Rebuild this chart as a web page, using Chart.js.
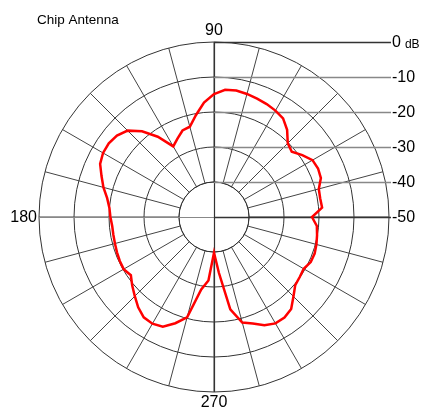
<!DOCTYPE html>
<html>
<head>
<meta charset="utf-8">
<script src="https://cdn.jsdelivr.net/npm/chart.js@4.4.1/dist/chart.umd.min.js"></script>
<style>
  body { margin: 0; background: #fff; }
</style>
</head>
<body>
<canvas id="myChart" width="422" height="410"></canvas>
<script>
// measured gain (dB), every 5 degrees, counter-clockwise from 0 (right)
var angles = [];
for (var a = 0; a < 360; a += 5) angles.push(a);
var gain = [
    -22.0, -19.0, -19.2, -19.0, -17.5, -17.2, -17.5, -19.2, -21.0, -20.2,
    -17.5, -15.6, -14.9, -14.4, -14.0, -13.6, -13.3, -13.5, -14.9, -17.2,
    -20.4, -23.3, -23.7, -25.3, -26.7, -22.0, -18.0, -15.1, -13.8, -13.3,
    -13.4, -14.1, -15.8, -17.3, -19.0, -20.0, -20.4, -20.8, -20.8, -20.7,
    -20.5, -20.3, -20.2, -21.0, -19.5, -18.0, -16.3, -15.0, -14.8, -15.4,
    -17.7, -20.3, -29.0, -31.8, -39.8, -34.0, -23.2, -18.8, -17.6, -15.9,
    -14.9, -14.9, -15.7, -17.9, -19.7, -20.1, -20.4, -19.5, -19.4, -19.7,
    -20.1, -20.5
];
var ringTicks = [0, -10, -20, -30, -40, -50];
var axisLabels = ['90', '180', '270'];
var title = 'Chip Antenna';

// radar goes clockwise from the top, so start at 90 and step backwards
var order = [];
for (var i = 0; i < angles.length; i++) {
    order.push((90 - i * 5 + 360) % 360);
}
var radarLabels = order.map(function (d) { return String(d); });
var radarData = order.map(function (d) { return gain[angles.indexOf(d)]; });

var font = '"Liberation Sans", Arial, sans-serif';

var polarDecor = {
    id: 'polarDecor',
    beforeDatasetsDraw: function (chart) {
        var c = chart.ctx;
        var s = chart.scales.r;
        var cx = s.xCenter, cy = s.yCenter;
        var R = s.getDistanceFromCenterForValue(0);
        var rIn = s.getDistanceFromCenterForValue(-40);
        var xEnd = cx + R + 2;
        c.save();
        // clear the spokes inside the -40 ring
        c.beginPath();
        c.arc(cx, cy, rIn - 0.5, 0, Math.PI * 2);
        c.fillStyle = '#fff';
        c.fill();
        c.beginPath();
        c.arc(cx, cy, rIn, 0, Math.PI * 2);
        c.strokeStyle = '#333';
        c.lineWidth = 1;
        c.stroke();

        // axes through the centre
        c.beginPath();
        c.strokeStyle = '#888';
        c.lineWidth = 1.2;
        c.moveTo(cx - R, cy + 0.5);
        c.lineTo(cx, cy + 0.5);
        c.stroke();
        c.beginPath();
        c.strokeStyle = '#333';
        c.lineWidth = 1.2;
        c.moveTo(cx + 0.5, cy - R);
        c.lineTo(cx + 0.5, cy + R);
        c.stroke();

        // dB reference lines to the right
        ringTicks.forEach(function (v) {
            var y = cy - s.getDistanceFromCenterForValue(v);
            c.beginPath();
            c.strokeStyle = (v === 0 || v === -50) ? '#333' : '#888';
            c.lineWidth = 1.3;
            c.moveTo(cx, y + 0.5);
            c.lineTo(xEnd, y + 0.5);
            c.stroke();
        });

        c.fillStyle = '#000';
        c.textBaseline = 'middle';
        c.textAlign = 'left';
        ringTicks.forEach(function (v) {
            var y = cy - s.getDistanceFromCenterForValue(v);
            c.font = '16px ' + font;
            c.fillText(String(v), xEnd + 1, y + 1);
            if (v === 0) {
                var w = c.measureText('0').width;
                c.font = '12px ' + font;
                c.fillText('dB', xEnd + w + 5, y + 3);
            }
        });

        c.font = '16px ' + font;
        c.textAlign = 'center';
        c.fillText(axisLabels[0], cx, cy - R - 11);
        c.fillText(axisLabels[2], cx, cy + R + 11);
        c.textAlign = 'right';
        c.fillText(axisLabels[1], cx - R - 2, cy + 1);

        c.textAlign = 'left';
        c.font = '13.5px ' + font;
        c.fillText(title, 37, 20);
        c.restore();
    }
};

var ctx = document.getElementById('myChart');
var myRadarChart = new Chart(ctx, {
    type: 'radar',
    data: {
        labels: radarLabels,
        datasets: [{
            data: radarData,
            borderColor: '#ff0000',
            borderWidth: 2.5,
            fill: false,
            pointRadius: 0,
            tension: 0
        }]
    },
    options: {
        responsive: false,
        animation: false,
        devicePixelRatio: 1,
        layout: {
            padding: { left: 39, right: 33, top: 42, bottom: 18 }
        },
        plugins: {
            legend: { display: false },
            tooltip: { enabled: false }
        },
        scales: {
            r: {
                min: -50,
                max: 0,
                startAngle: 0,
                ticks: { display: false, stepSize: 10 },
                pointLabels: { display: false },
                grid: { circular: true, color: '#333', lineWidth: 1 },
                angleLines: {
                    color: function (c) {
                        var d = order[c.index];
                        return d % 15 === 0 ? '#444' : 'rgba(0,0,0,0)';
                    },
                    lineWidth: 1
                }
            }
        }
    },
    plugins: [polarDecor]
});
</script>
</body>
</html>
